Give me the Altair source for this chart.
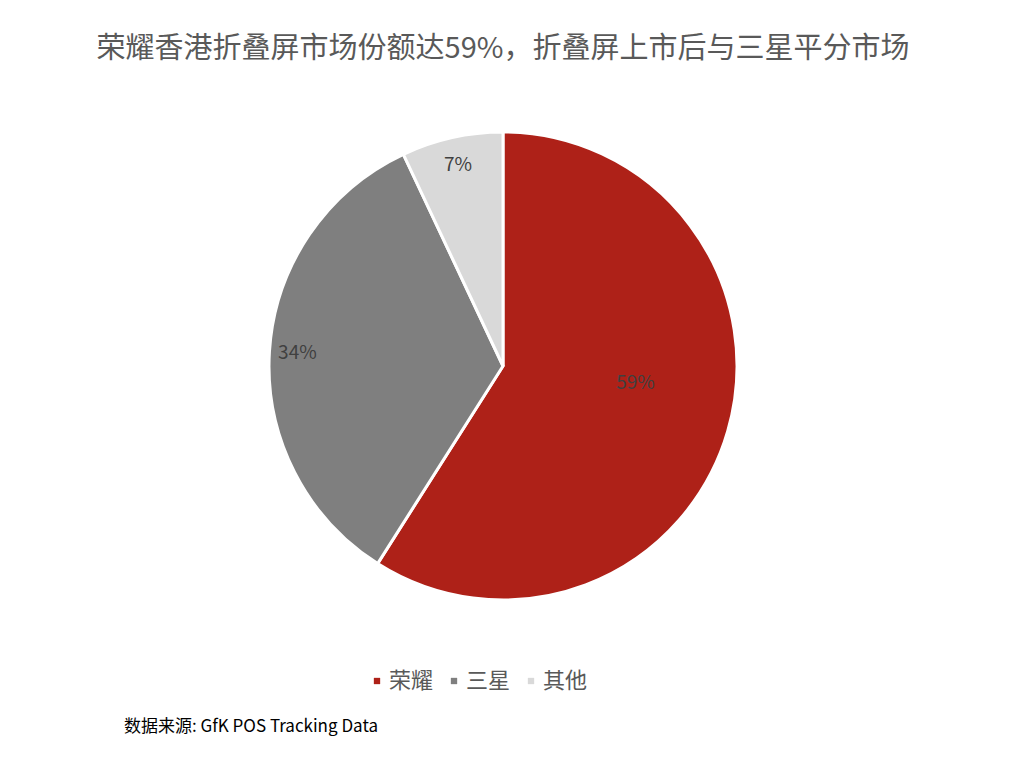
import altair as alt
import pandas as pd

brands = ["荣耀", "三星", "其他"]
shares = [59, 34, 7]
labels = ["59%", "34%", "7%"]
colors = ["#AE2118", "#7F7F7F", "#D9D9D9"]
order = [1, 2, 3]

title_text = "荣耀香港折叠屏市场份额达59%，折叠屏上市后与三星平分市场"
source_text = "数据来源: GfK POS Tracking Data"

df = pd.DataFrame({"brand": brands, "share": shares, "label": labels, "ord": order})

CX, CY, R = 495, 358, 234
FONT = "Noto Sans CJK SC"
TAU = 6.283185307

pie = alt.Chart(df).mark_arc(outerRadius=R, stroke="white", strokeWidth=3).encode(
    theta=alt.Theta("share:Q", stack=True, scale=alt.Scale(range=[0, TAU])),
    order=alt.Order("ord:Q"),
    x=alt.value(CX), y=alt.value(CY),
    color=alt.Color(
        "brand:N",
        scale=alt.Scale(domain=brands, range=colors),
        sort=brands,
        legend=alt.Legend(
            title=None, orient="none", direction="horizontal",
            legendX=358, legendY=662,
            symbolType="square", symbolSize=40, symbolStrokeWidth=0,
            labelFont=FONT, labelFontSize=22, labelColor="#595959",
            columnPadding=9, symbolOffset=0, labelOffset=1,
        ),
    ),
)

stacked = alt.Chart(df).transform_stack(
    stack="share", as_=["s0", "s1"], groupby=[], sort=[alt.SortField("ord")]
).transform_calculate(mid="(datum.s0 + datum.s1) / 2")

theta_mid = alt.Theta("mid:Q", scale=alt.Scale(domain=[0, 100], range=[0, TAU]))

lab_big = stacked.transform_filter(alt.datum.share > 50).mark_text(
    radius=138, font=FONT, fontSize=19, color="#404040", dy=-22
).encode(theta=theta_mid, x=alt.value(CX), y=alt.value(CY), text="label:N")

lab_small = stacked.transform_filter(alt.datum.share <= 50).mark_text(
    radius=206, font=FONT, fontSize=19, color="#404040"
).encode(theta=theta_mid, x=alt.value(CX), y=alt.value(CY), text="label:N")

title = alt.Chart(pd.DataFrame({"t": [title_text]})).mark_text(
    font=FONT, fontSize=29, color="#595959", align="center", baseline="middle"
).encode(x=alt.value(495), y=alt.value(41), text="t:N")

source = alt.Chart(pd.DataFrame({"t": [source_text]})).mark_text(
    font=FONT, fontSize=17, color="#000000", align="left", baseline="middle"
).encode(x=alt.value(116), y=alt.value(719), text="t:N")

chart = alt.layer(pie, lab_big, lab_small, title, source).properties(
    width=1002, height=752, padding=0, background="white",
    autosize=alt.AutoSizeParams(type="none"),
).configure_view(stroke=None)

chart.save("out.html", embed_options={"renderer": "svg", "actions": False})
